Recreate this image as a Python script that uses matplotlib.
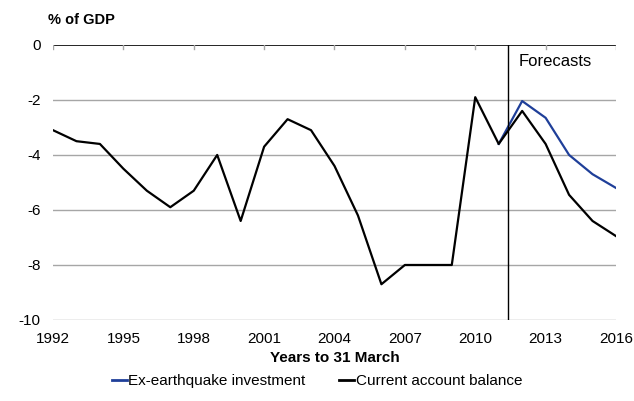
import numpy as np
import matplotlib
matplotlib.use('Agg')
import matplotlib.pyplot as plt
from matplotlib.lines import Line2D

plt.rcParams['font.family'] = ['Liberation Sans', 'DejaVu Sans']
plt.rcParams['axes.unicode_minus'] = False

# ─── Data ─────────────────────────────────────────
YEARS = list(range(1992, 2017))
CURRENT_ACCOUNT = [-3.1, -3.5, -3.6, -4.5, -5.3, -5.9, -5.3, -4.0, -6.4, -3.7,
                   -2.7, -3.1, -4.4, -6.2, -8.7, -8.0, -8.0, -8.0, -1.9, -3.6,
                   -2.4, -3.6, -5.45, -6.4, -6.95]
EX_QUAKE_YEARS = [2011, 2012, 2013, 2014, 2015, 2016]
EX_QUAKE = [-3.6, -2.04, -2.65, -4.0, -4.7, -5.2]
FORECAST_START = 2011.4
XTICKS = list(range(1992, 2017, 3))
YTICKS = [0, -2, -4, -6, -8, -10]
# ──────────────────────────────────────────────────

BLUE = '#1f3f99'
GRID = '#a6a6a6'

fig = plt.figure(figsize=(6.34, 4.01), dpi=100)
ax = fig.add_axes([0.0836, 0.202, 0.888, 0.686])

for y in YTICKS[1:]:
    ax.axhline(y, color=GRID, linewidth=1, zorder=1)
ax.axhline(0, color='black', linewidth=1.2, zorder=2)
for x in XTICKS:
    ax.plot([x, x], [0, -0.16], color=GRID, linewidth=1, zorder=2)

ax.plot(EX_QUAKE_YEARS, EX_QUAKE, color=BLUE, linewidth=1.6, zorder=3)
ax.plot(YEARS, CURRENT_ACCOUNT, color='black', linewidth=1.6, zorder=4)
ax.axvline(FORECAST_START, color='black', linewidth=1, zorder=5)
ax.text(FORECAST_START + 0.45, -0.62, "Forecasts", fontsize=12, ha='left', va='center')

ax.set_xlim(1992, 2016)
ax.set_ylim(-10, 0)
ax.set_xticks(XTICKS)
ax.set_yticks(YTICKS)
ax.tick_params(axis='both', length=0, labelsize=11)
ax.tick_params(axis='y', pad=9)
ax.tick_params(axis='x', pad=9)
for s in ax.spines.values():
    s.set_visible(False)

ax.set_xlabel("Years to 31 March", fontsize=11, fontweight='bold', labelpad=3)
fig.text(0.076, 0.95, "% of GDP", fontsize=10.5, fontweight='bold', ha='left', va='center')

handles = [Line2D([], [], color=BLUE, linewidth=2),
           Line2D([], [], color='black', linewidth=2)]
fig.legend(handles, ["Ex-earthquake investment", "Current account balance"],
           loc='center', bbox_to_anchor=(0.5, 0.05), ncol=2, frameon=False,
           fontsize=11, handlelength=1.0, handletextpad=0.1, columnspacing=2.2)

fig.savefig("out.png", dpi=100)
